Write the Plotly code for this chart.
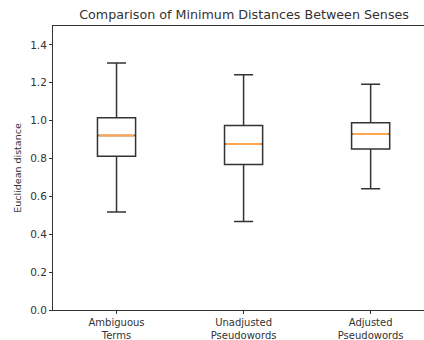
import plotly.graph_objects as go

categories = ["Ambiguous<br>Terms", "Unadjusted<br>Pseudowords", "Adjusted<br>Pseudowords"]
lower_whisker = [0.517, 0.468, 0.640]
q1 = [0.812, 0.768, 0.851]
median = [0.921, 0.877, 0.930]
q3 = [1.016, 0.975, 0.989]
upper_whisker = [1.305, 1.242, 1.193]
y_ticks = [0.0, 0.2, 0.4, 0.6, 0.8, 1.0, 1.2, 1.4]

positions = list(range(len(categories)))
box_w = 0.3

fig = go.Figure()
fig.add_trace(go.Box(
    x=positions, q1=q1, median=median, q3=q3,
    lowerfence=lower_whisker, upperfence=upper_whisker,
    width=box_w, whiskerwidth=0.5,
    line=dict(color="#333333", width=1.5),
    fillcolor="rgba(255,255,255,0)", boxpoints=False, showlegend=False,
    hoverinfo="skip",
))

mx, my = [], []
for p, m in zip(positions, median):
    mx += [p - box_w / 2 + 0.01, p + box_w / 2 - 0.01, None]
    my += [m, m, None]
fig.add_trace(go.Scatter(x=mx, y=my, mode="lines",
                         line=dict(color="#ffa64f", width=2),
                         showlegend=False, hoverinfo="skip"))

fig.update_layout(
    width=424, height=340,
    margin=dict(l=53, r=0, t=26, b=30, autoexpand=False),
    paper_bgcolor="white", plot_bgcolor="white",
    font=dict(family="DejaVu Sans", color="#333333", size=10),
    title=dict(text="Comparison of Minimum Distances Between Senses",
               xref="paper", x=0.515, xanchor="center",
               yref="container", y=1 - 15 / 340, yanchor="middle",
               font=dict(size=12.7, color="#333333")),
)
fig.update_xaxes(
    range=[-0.5, 2.42], tickmode="array", tickvals=positions, ticktext=categories,
    showline=True, linecolor="#333333", linewidth=1, mirror=True,
    ticks="outside", ticklen=3, tickcolor="#333333", automargin=False,
    showgrid=False, zeroline=False, tickfont=dict(size=10),
)
fig.update_yaxes(
    range=[0, 1.5], tickmode="array", tickvals=y_ticks,
    ticktext=[f"{v:.1f}" for v in y_ticks],
    showline=True, linecolor="#333333", linewidth=1, automargin=False,
    ticks="outside", ticklen=3, tickcolor="#333333",
    showgrid=False, zeroline=False, tickfont=dict(size=10.5),
    title=dict(text="Euclidean distance", font=dict(size=9.5), standoff=6),
)
fig.write_html("out.html",
               config={"displayModeBar": False},
               post_script="document.body.style.margin='0';document.body.style.overflow='hidden';")
